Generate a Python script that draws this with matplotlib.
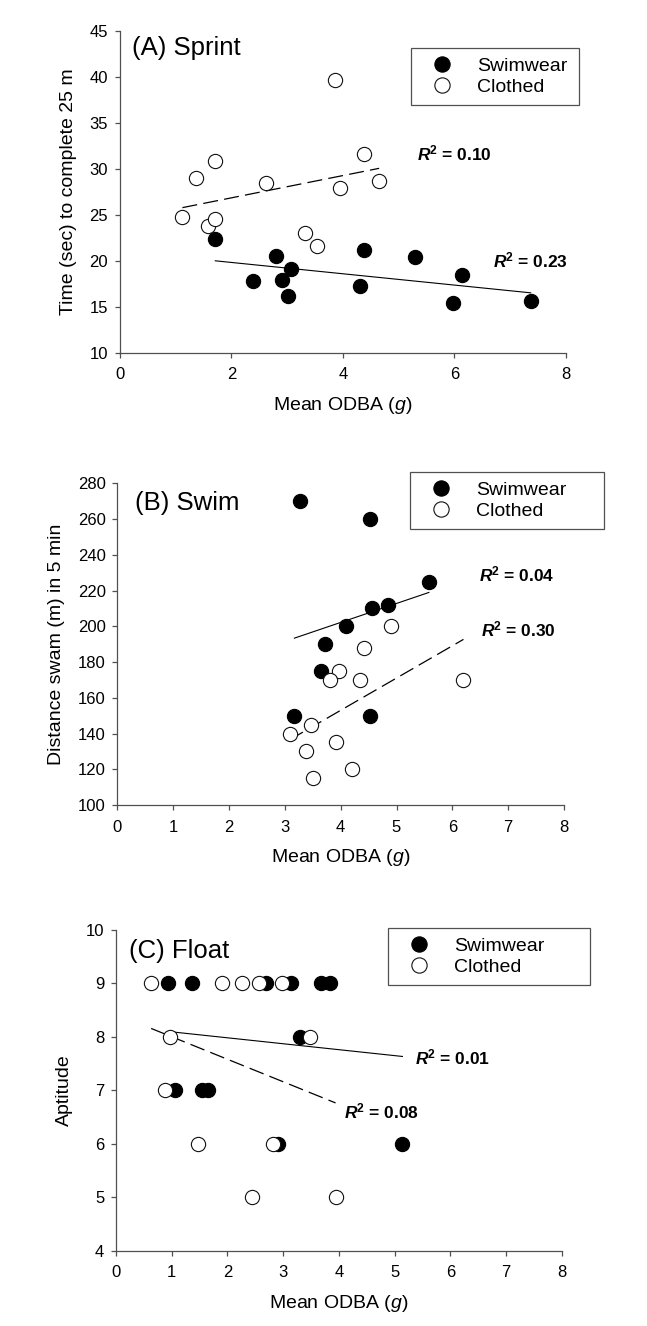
import numpy as np
import matplotlib
matplotlib.use("Agg")
import matplotlib.pyplot as plt
from matplotlib.lines import Line2D

plt.rcParams["font.family"] = ["Liberation Sans", "DejaVu Sans"]
plt.rcParams["mathtext.fontset"] = "custom"
plt.rcParams["mathtext.rm"] = "Liberation Sans"
plt.rcParams["mathtext.it"] = "Liberation Sans:italic"
plt.rcParams["mathtext.bf"] = "Liberation Sans:bold"
plt.rcParams["mathtext.bfit"] = "Liberation Sans:bold:italic"

# (A) Sprint - time to complete 25 m
sprint_swim_x = [1.71, 2.38, 2.80, 2.90, 3.06, 3.01, 4.30, 4.37, 5.29, 6.13, 5.97, 7.37]
sprint_swim_y = [22.4, 17.8, 20.5, 17.9, 19.1, 16.2, 17.3, 21.2, 20.4, 18.4, 15.4, 15.6]
sprint_cloth_x = [1.12, 1.37, 1.71, 1.58, 1.70, 2.62, 3.32, 3.54, 3.86, 4.37, 3.95, 4.65]
sprint_cloth_y = [24.8, 29.0, 30.8, 23.8, 24.5, 28.5, 23.0, 21.6, 39.7, 31.6, 27.9, 28.7]

# (B) Swim - distance in 5 min
swim_swim_x = [3.27, 4.52, 5.58, 4.56, 4.84, 4.09, 3.71, 3.65, 3.17, 4.52]
swim_swim_y = [270, 260, 225, 210, 212, 200, 190, 175, 150, 150]
swim_cloth_x = [4.91, 4.42, 3.97, 3.81, 4.35, 6.20, 3.09, 3.46, 3.92, 3.38, 3.50, 4.21]
swim_cloth_y = [200, 188, 175, 170, 170, 170, 140, 145, 135, 130, 115, 120]

# (C) Float - aptitude
float_swim_x = [0.94, 1.37, 2.69, 3.14, 3.67, 3.84, 3.30, 1.06, 1.54, 1.65, 2.90, 5.14]
float_swim_y = [9, 9, 9, 9, 9, 9, 8, 7, 7, 7, 6, 6]
float_cloth_x = [0.63, 1.91, 2.26, 2.56, 2.97, 0.97, 3.48, 0.88, 1.48, 2.82, 2.44, 3.94]
float_cloth_y = [9, 9, 9, 9, 9, 8, 8, 7, 6, 6, 5, 5]

r2_labels = [("0.23", "0.10"), ("0.04", "0.30"), ("0.01", "0.08")]


def fit_line(x, y):
    x = np.asarray(x, float)
    slope, icpt = np.polyfit(x, np.asarray(y, float), 1)
    xs = np.array([x.min(), x.max()])
    return xs, slope * xs + icpt


fig = plt.figure(figsize=(6.47, 13.26), dpi=100)

panels = [
    dict(rect=[0.1855, 0.734, 0.689, 0.2428], title="(A) Sprint",
         sx=sprint_swim_x, sy=sprint_swim_y, cx=sprint_cloth_x, cy=sprint_cloth_y,
         ylim=(10, 45), yticks=np.arange(10, 46, 5), xticks=np.arange(0, 9, 2),
         ylabel="Time (sec) to complete 25 m", title_pos=(0.026, 0.945),
         r2_pos=[(6.70, 19.24), (5.33, 30.87)], leg=(0.652, 0.947, 0.377)),
    dict(rect=[0.1816, 0.3929, 0.690, 0.2426], title="(B) Swim",
         sx=swim_swim_x, sy=swim_swim_y, cx=swim_cloth_x, cy=swim_cloth_y,
         ylim=(100, 280), yticks=np.arange(100, 281, 20), xticks=np.arange(0, 9, 1),
         ylabel="Distance swam (m) in 5 min", title_pos=(0.039, 0.938),
         r2_pos=[(6.48, 225.4), (6.52, 194.3)], leg=(0.655, 1.036, 0.435)),
    dict(rect=[0.1793, 0.0568, 0.689, 0.2418], title="(C) Float",
         sx=float_swim_x, sy=float_swim_y, cx=float_cloth_x, cy=float_cloth_y,
         ylim=(4, 10), yticks=np.arange(4, 11, 1), xticks=np.arange(0, 9, 1),
         ylabel="Aptitude", title_pos=(0.029, 0.935),
         r2_pos=[(5.37, 7.48), (4.10, 6.48)], leg=(0.611, 1.007, 0.452)),
]

spine_col = "#505050"

for i, p in enumerate(panels):
    ax = fig.add_axes(p["rect"])
    ax.set_xlim(0, 8)
    ax.set_ylim(*p["ylim"])
    ax.set_xticks(p["xticks"])
    ax.set_yticks(p["yticks"])
    for s in ["top", "right"]:
        ax.spines[s].set_visible(False)
    for s in ["left", "bottom"]:
        ax.spines[s].set_color(spine_col)
        ax.spines[s].set_linewidth(0.9)
    ax.tick_params(direction="out", length=3.5, width=0.9, color=spine_col,
                   labelsize=12)
    ax.tick_params(axis="x", pad=7)
    ax.tick_params(axis="y", pad=5)
    ax.set_xlabel(r"Mean ODBA ($\it{g}$)", fontsize=14, labelpad=9)
    ax.set_ylabel(p["ylabel"], fontsize=14, labelpad=9)

    # regression lines
    lx, ly = fit_line(p["sx"], p["sy"])
    ax.plot(lx, ly, color="black", lw=0.8, zorder=2)
    lx, ly = fit_line(p["cx"], p["cy"])
    ax.plot(lx, ly, color="black", lw=0.9, dashes=(12, 5), zorder=2)

    ax.scatter(p["sx"], p["sy"], s=105, facecolor="black", edgecolor="black",
               linewidth=0.8, zorder=3, clip_on=False)
    ax.scatter(p["cx"], p["cy"], s=105, facecolor="white", edgecolor="#111111",
               linewidth=0.8, zorder=4, clip_on=False)

    for lab, (tx, ty) in zip(r2_labels[i], p["r2_pos"]):
        ax.text(tx, ty, r"$\mathbfit{R}^{\mathbf{2}}$ = " + lab, fontsize=12.5,
                fontweight="bold", ha="left", va="baseline")

    ax.text(p["title_pos"][0], p["title_pos"][1], p["title"], transform=ax.transAxes,
            fontsize=18.5, ha="left", va="center")

    handles = [
        Line2D([], [], ls="none", marker="o", ms=11, mfc="black", mec="black", mew=0.8),
        Line2D([], [], ls="none", marker="o", ms=11, mfc="white", mec="#111111", mew=0.8),
    ]
    x0, top, w = p["leg"]
    leg = ax.legend(handles, ["Swimwear", "Clothed"], loc="upper left",
                    bbox_to_anchor=(x0, top - 0.2, w, 0.2), mode="expand",
                    borderaxespad=0, fontsize=14, frameon=True, fancybox=False,
                    borderpad=0.5, handlelength=2.2, handletextpad=0.7,
                    labelspacing=0.15)
    frame = leg.get_frame()
    frame.set_edgecolor(spine_col)
    frame.set_linewidth(0.9)
    frame.set_alpha(1)

fig.savefig("out.png", dpi=100)
